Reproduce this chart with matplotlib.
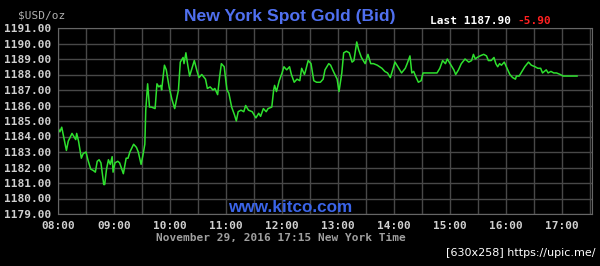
import matplotlib
matplotlib.use("Agg")
import matplotlib.pyplot as plt
import numpy as np

# minutes after 08:00 New York time, bid price in $USD/oz
minutes = [0, 2, 4, 6, 9, 11, 15, 17, 19, 20, 22, 25, 27, 30, 32, 35, 38, 40, 42, 44,
           46, 49, 50, 52, 54, 56, 58, 59, 61, 64, 66, 70, 73, 75, 77, 81, 84, 86, 89, 91,
           93, 94, 96, 98, 100, 104, 106, 108, 110, 111, 114, 116, 119, 122, 125, 129, 131, 134, 135, 137,
           139, 141, 143, 146, 149, 151, 154, 158, 160, 163, 166, 168, 171, 173, 175, 178, 181, 183, 186, 189,
           191, 193, 196, 199, 201, 204, 208, 212, 215, 217, 220, 223, 225, 229, 231, 232, 234, 237, 240, 242,
           245, 248, 250, 253, 256, 259, 261, 264, 265, 268, 271, 274, 277, 281, 284, 286, 290, 292, 295, 299,
           301, 304, 306, 309, 312, 315, 317, 320, 322, 325, 329, 332, 335, 338, 342, 347, 350, 353, 356, 358,
           361, 365, 368, 372, 374, 377, 379, 381, 383, 386, 389, 391, 406, 409, 412, 415, 417, 420, 424, 426,
           429, 432, 436, 440, 443, 445, 447, 449, 452, 456, 459, 461, 464, 467, 469, 471, 473, 475, 478, 481,
           484, 487, 490, 491, 494, 497, 500, 504, 507, 511, 514, 517, 519, 523, 525, 528, 531, 534, 538, 541,
           556]
prices = [1184.55, 1184.3, 1184.6, 1184.0, 1183.1, 1183.7, 1184.2, 1184.0, 1183.8, 1184.2,
          1183.7, 1182.6, 1182.9, 1183.0, 1182.5, 1181.9, 1181.8, 1181.7, 1182.4, 1182.5,
          1182.3, 1180.9, 1180.9, 1181.9, 1182.5, 1182.2, 1182.7, 1181.7, 1182.3, 1182.4,
          1182.3, 1181.6, 1182.6, 1182.6, 1183.0, 1183.5, 1183.3, 1183.0, 1182.2, 1182.8,
          1183.5, 1185.7, 1187.4, 1185.9, 1185.9, 1185.8, 1187.4, 1187.2, 1187.3, 1187.0,
          1188.6, 1188.3, 1187.2, 1186.4, 1185.8, 1187.0, 1188.8, 1189.1, 1188.7, 1189.4,
          1188.6, 1187.9, 1188.3, 1188.9, 1188.2, 1187.8, 1188.0, 1187.7, 1187.1, 1187.2,
          1187.0, 1187.1, 1186.7, 1187.8, 1188.7, 1188.5, 1187.0, 1186.8, 1185.9, 1185.4,
          1185.0, 1185.6, 1185.7, 1185.6, 1186.0, 1185.7, 1185.6, 1185.2, 1185.5, 1185.3,
          1185.8, 1185.6, 1185.8, 1185.9, 1187.0, 1187.3, 1186.9, 1187.6, 1188.1, 1188.5,
          1188.3, 1188.5, 1188.0, 1187.5, 1187.7, 1187.6, 1188.4, 1188.0, 1188.2, 1188.9,
          1188.7, 1187.6, 1187.5, 1187.5, 1187.7, 1188.3, 1188.7, 1188.6, 1188.2, 1187.7,
          1186.9, 1188.1, 1189.4, 1189.5, 1189.4, 1188.8, 1188.9, 1190.1, 1189.6, 1189.1,
          1188.7, 1189.3, 1188.7, 1188.7, 1188.6, 1188.4, 1188.2, 1188.1, 1187.8, 1188.2,
          1188.8, 1188.4, 1188.1, 1188.4, 1188.7, 1189.2, 1188.1, 1188.2, 1187.9, 1187.5,
          1187.6, 1188.1, 1188.1, 1188.4, 1188.9, 1188.7, 1189.0, 1188.7, 1188.3, 1188.0,
          1188.3, 1188.7, 1189.0, 1188.8, 1188.9, 1189.3, 1189.0, 1189.1, 1189.2, 1189.3,
          1189.2, 1188.9, 1188.9, 1189.1, 1188.7, 1188.5, 1188.7, 1188.6, 1188.8, 1188.4,
          1188.0, 1187.8, 1187.7, 1187.9, 1187.9, 1188.2, 1188.5, 1188.8, 1188.6, 1188.5,
          1188.4, 1188.4, 1188.1, 1188.3, 1188.1, 1188.2, 1188.1, 1188.1, 1188.0, 1187.9,
          1187.9]

hour_labels = ["08:00", "09:00", "10:00", "11:00", "12:00", "13:00", "14:00", "15:00", "16:00", "17:00"]
price_ticks = list(range(1179, 1192))

mono = "DejaVu Sans Mono"
sans = "Liberation Sans"

fig = plt.figure(figsize=(6.0, 2.66), dpi=100, facecolor="black")
ax = fig.add_axes([58/600, 1-214/266, (592-58)/600, (214-28)/266])
ax.set_facecolor("black")

ax.plot(minutes, prices, color="#2ee02e", linewidth=1.1)

ax.set_xlim(0, 572)
ax.set_ylim(1179, 1191)
ax.set_xticks(np.arange(0, 600, 60))
ax.set_xticks(np.arange(30, 572, 60), minor=True)
ax.set_xticklabels(hour_labels)
ax.set_yticks(price_ticks)
ax.set_yticklabels(["%.2f" % p for p in price_ticks])
ax.grid(True, which="both", color="#484848", linewidth=1.0)
ax.tick_params(which="both", length=0, colors="#d0d0d0", pad=5)
for lab in ax.get_xticklabels() + ax.get_yticklabels():
    lab.set_family(mono)
    lab.set_fontsize(8)
    lab.set_fontweight("bold")
for s in ax.spines.values():
    s.set_color("#666666")

fig.text(18/600, 1-15/266, "$USD/oz", color="#b0b0b0", family=mono, fontsize=8, va="center")
fig.text(290/600, 1-16/266, "New York Spot Gold (Bid)", color="#5070f0", family=sans,
         fontsize=12.6, fontweight="bold", ha="center", va="center")
fig.text(430/600, 1-21/266, "Last 1187.90", color="white", family=mono, fontsize=8,
         fontweight="bold", va="center")
fig.text(517/600, 1-21/266, "-5.90", color="#ff2020", family=mono, fontsize=8,
         fontweight="bold", va="center")
fig.text(290/600, 1-207/266, "www.kitco.com", color="#3a64e8", family=sans, fontsize=12.3,
         fontweight="bold", ha="center", va="center")
fig.text(281/600, 1-238/266, "November 29, 2016 17:15 New York Time", color="#a0a0a0",
         family=mono, fontsize=8, fontweight="bold", ha="center", va="center")
fig.text(595/600, 1-253/266, "[630x258] https://upic.me/", color="white", family="DejaVu Sans",
         fontsize=8, ha="right", va="center")

fig.savefig("out.png", dpi=100, facecolor="black")
